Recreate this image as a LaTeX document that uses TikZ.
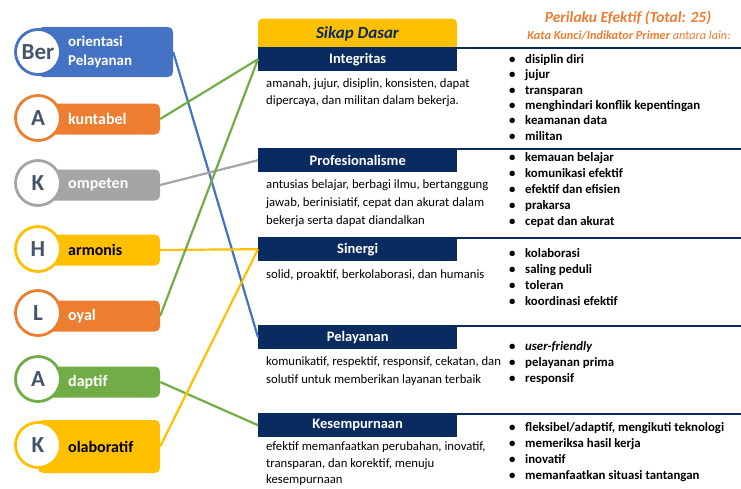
\documentclass[tikz,border=0pt]{standalone}
\usepackage{fontspec}
\setmainfont{Carlito}
\usetikzlibrary{positioning, calc}
\definecolor{blue1}{RGB}{68, 114, 196}
\definecolor{orange1}{RGB}{237, 125, 49}
\definecolor{grey1}{RGB}{165, 165, 165}
\definecolor{yellow1}{RGB}{255, 192, 0}
\definecolor{green1}{RGB}{112, 173, 71}
\definecolor{navy1}{RGB}{10, 43, 96}
\definecolor{slate1}{RGB}{68, 84, 106}
\newcommand{\bitem}[1]{\makebox[16pt][l]{\textbullet}#1}

\begin{document}
\begin{tikzpicture}[x=1pt, y=-1pt,
  ring/.style={circle, draw, line width=2.8pt, fill=white, minimum size=45pt, inner sep=0pt, text=slate1, font=\bfseries\fontsize{23}{23}\selectfont},
  tag/.style={rounded corners=5pt, minimum width=122pt, minimum height=31pt, inner sep=0pt},
  tagtext/.style={anchor=west, inner sep=0pt, align=left, font=\bfseries\fontsize{16}{19}\selectfont},
  bar/.style={fill=navy1, text=white, minimum width=199pt, minimum height=24pt, inner sep=0pt, anchor=north west, font=\bfseries\fontsize{14.5}{14.5}\selectfont},
  desc/.style={anchor=north west, inner sep=0pt, align=left, font=\fontsize{12.7}{18}\selectfont},
  keys/.style={anchor=north west, inner sep=0pt, align=left, font=\bfseries\fontsize{12.8}{16}\selectfont},
  rule/.style={navy1, line width=2pt},
  link/.style={line width=2.2pt}
]
  \useasboundingbox (0,0) rectangle (741,488);
  \coordinate (edge) at (741,0);

  % BerAKHLAK
  \node[tag, fill=blue1, minimum width=135pt, minimum height=50pt] (ber) at (105.5,52) {};
  \node[ring, draw=blue1] (berC) at (38,52) {Ber};
  \node[tagtext, text=white, font=\bfseries\fontsize{15}{19}\selectfont] (berT) at (68,52) {orientasi\\Pelayanan};

  \node[tag, fill=orange1] (akun) at (99,119) {};
  \node[ring, draw=orange1] (akunC) at (38,118) {A};
  \node[tagtext, text=white] (akunT) at (68,119) {kuntabel};

  \node[tag, fill=grey1] (komp) at (99,185) {};
  \node[ring, draw=grey1] (kompC) at (38,183) {K};
  \node[tagtext, text=white] (kompT) at (68,185) {ompeten};

  \node[tag, fill=yellow1] (harm) at (99,250) {};
  \node[ring, draw=yellow1] (harmC) at (38,249) {H};
  \node[tagtext, text=black] (harmT) at (68,250) {armonis};

  \node[tag, fill=orange1] (loyal) at (99,316) {};
  \node[ring, draw=orange1] (loyalC) at (38,313) {L};
  \node[tagtext, text=white] (loyalT) at (68,316) {oyal};

  \node[tag, fill=green1] (adap) at (99,382) {};
  \node[ring, draw=green1] (adapC) at (38,379) {A};
  \node[tagtext, text=white] (adapT) at (68,382) {daptif};

  \node[tag, fill=yellow1, minimum height=53pt] (kolab) at (99,446.5) {};
  \node[ring, draw=yellow1] (kolabC) at (38,445) {K};
  \node[tagtext, text=black] (kolabT) at (68,447) {olaboratif};

  % Sikap Dasar
  \fill[yellow1] (258,33) rectangle (457,48);
  \node[fill=yellow1, rounded corners=5pt, minimum width=199pt, minimum height=30pt, inner sep=0pt, text=navy1,
        font=\bfseries\itshape\fontsize{17}{17}\selectfont] (sikap) at (357.5,33.5) {Sikap Dasar};
  \node[bar] (integ) at (258,47) {Integritas};
  \node[bar] (prof) at (258,148) {Profesionalisme};
  \node[bar] (siner) at (258,237) {Sinergi};
  \node[bar] (pelay) at (258,325) {Pelayanan};
  \node[bar] (kesem) at (258,413) {Kesempurnaan};

  \node[desc, font=\fontsize{12.7}{17}\selectfont] (integD) at (266,78.5) {amanah, jujur, disiplin, konsisten, dapat\\dipercaya, dan militan dalam bekerja.};
  \node[desc] (profD) at (266,179.5) {antusias belajar, berbagi ilmu, bertanggung\\jawab, berinisiatif, cepat dan akurat dalam\\bekerja serta dapat diandalkan};
  \node[desc] (sinerD) at (266,269.5) {solid, proaktif, berkolaborasi, dan humanis};
  \node[desc] (pelayD) at (266,356.5) {komunikatif, respektif, responsif, cekatan, dan\\solutif untuk memberikan layanan terbaik};
  \node[desc, font=\fontsize{12.7}{16.5}\selectfont] (kesemD) at (266,441.5) {efektif memanfaatkan perubahan, inovatif,\\transparan, dan korektif, menuju\\kesempurnaan};

  % Perilaku Efektif
  \node[text=orange1, font=\bfseries\itshape\fontsize{15.5}{15.5}\selectfont] (judul) at (628,18) {Perilaku Efektif (Total: 25)};
  \node[text=orange1, font=\itshape\fontsize{12.3}{12.3}\selectfont] (subjudul) at (629,35) {\textbf{Kata Kunci/Indikator Primer} antara lain:};

  \node[keys, font=\bfseries\fontsize{12.8}{15.3}\selectfont] (integK) at (509,54.5) {\bitem{disiplin diri}\\\bitem{jujur}\\\bitem{transparan}\\\bitem{menghindari konflik kepentingan}\\\bitem{keamanan data}\\\bitem{militan}};
  \node[keys] (profK) at (509,152.5) {\bitem{kemauan belajar}\\\bitem{komunikasi efektif}\\\bitem{efektif dan efisien}\\\bitem{prakarsa}\\\bitem{cepat dan akurat}};
  \node[keys] (sinerK) at (509,248.5) {\bitem{kolaborasi}\\\bitem{saling peduli}\\\bitem{toleran}\\\bitem{koordinasi efektif}};
  \node[keys] (pelayK) at (509,341.5) {\bitem{\textit{user-friendly}}\\\bitem{pelayanan prima}\\\bitem{responsif}};
  \node[keys] (kesemK) at (509,422.5) {\bitem{fleksibel/adaptif, mengikuti teknologi}\\\bitem{memeriksa hasil kerja}\\\bitem{inovatif}\\\bitem{memanfaatkan situasi tantangan}};

  \draw[rule] ([yshift=-1pt]integ.north east) -- ([yshift=-1pt]integ.north east -| edge);
  \draw[rule] ([yshift=-1pt]prof.north east) -- ([yshift=-1pt]prof.north east -| edge);
  \draw[rule] ([yshift=-1pt]siner.north east) -- ([yshift=-1pt]siner.north east -| edge);
  \draw[rule] ([yshift=-1pt]pelay.north east) -- ([yshift=-1pt]pelay.north east -| edge);
  \draw[rule] ([yshift=-1pt]kesem.north east) -- ([yshift=-1pt]kesem.north east -| edge);

  % connectors
  \draw[link, blue1] (ber.east) -- (pelay.west);
  \draw[link, green1] (akun.east) -- (integ.west);
  \draw[link, grey1] (komp.east) -- (prof.west);
  \draw[link, yellow1] (harm.east) -- (siner.west);
  \draw[link, green1] (loyal.east) -- (integ.west);
  \draw[link, green1] (adap.east) -- (kesem.west);
  \draw[link, yellow1] (kolab.east) -- (siner.west);
\end{tikzpicture}
\end{document}
